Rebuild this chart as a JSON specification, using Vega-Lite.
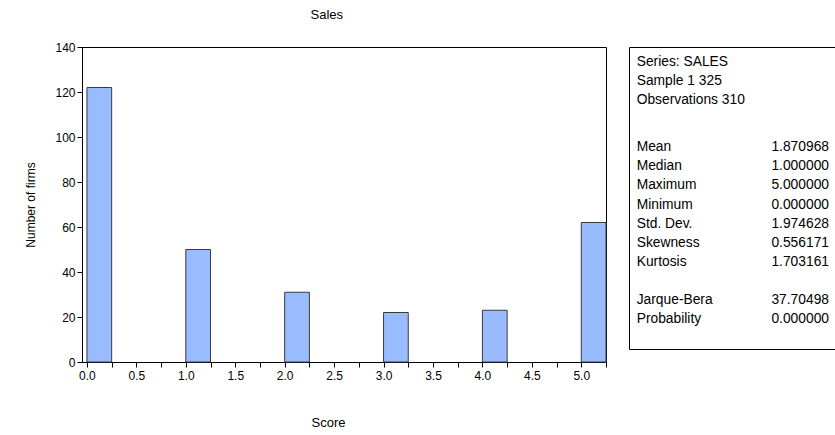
{
  "$schema": "https://vega.github.io/schema/vega-lite/v6.json",
  "background": "white",
  "padding": {"left": 24, "top": 8, "right": 0, "bottom": 0},
  "title": {"text": "Sales", "anchor": "start", "dx": 286, "fontSize": 13, "fontWeight": "normal", "font": "Liberation Sans", "color": "black", "offset": 19},
  "config": {
    "font": "Liberation Sans",
    "view": {"stroke": "black", "strokeWidth": 1},
    "axis": {"grid": false, "domainColor": "black", "tickColor": "black", "labelColor": "black", "titleColor": "black", "labelFont": "Liberation Sans", "titleFont": "Liberation Sans", "titleFontWeight": "normal", "labelFontSize": 12, "titleFontSize": 12, "tickSize": 5}
  },
  "spacing": 21,
  "hconcat": [
    {
      "width": 524,
      "height": 315,
      "data": {"values": [
        {"lo": 0, "hi": 0.25, "count": 122},
        {"lo": 1, "hi": 1.25, "count": 50},
        {"lo": 2, "hi": 2.25, "count": 31},
        {"lo": 3, "hi": 3.25, "count": 22},
        {"lo": 4, "hi": 4.25, "count": 23},
        {"lo": 5, "hi": 5.25, "count": 62}
      ]},
      "mark": {"type": "bar", "fill": "#99BBFF", "stroke": "#3a3a3a", "strokeWidth": 1, "opacity": 1},
      "encoding": {
        "x": {"field": "lo", "type": "quantitative", "scale": {"domain": [-0.05, 5.25], "nice": false, "zero": false},
          "axis": {"title": "Score", "titleFontSize": 13, "titlePadding": 35, "titleX": 246, "titleAlign": "center", "values": [0,0.25,0.5,0.75,1,1.25,1.5,1.75,2,2.25,2.5,2.75,3,3.25,3.5,3.75,4,4.25,4.5,4.75,5,5.25],
            "labelExpr": "(datum.value * 2) % 1 == 0 ? format(datum.value, '.1f') : ''", "labelPadding": 3, "labelFlush": false}},
        "x2": {"field": "hi"},
        "y": {"field": "count", "type": "quantitative", "scale": {"domain": [0, 140], "nice": false},
          "axis": {"title": "Number of firms", "titleFontSize": 12, "titlePadding": 17, "values": [0,20,40,60,80,100,120,140], "labelPadding": 2}},
        "y2": {"datum": 0}
      }
    },
    {
      "width": 220,
      "height": 302,
      "data": {"values": [
        {"label": "Series: SALES", "value": "", "line": 0},
        {"label": "Sample 1 325", "value": "", "line": 1},
        {"label": "Observations 310", "value": "", "line": 2},
        {"label": "Mean", "value": "1.870968", "line": 4.45},
        {"label": "Median", "value": "1.000000", "line": 5.45},
        {"label": "Maximum", "value": "5.000000", "line": 6.45},
        {"label": "Minimum", "value": "0.000000", "line": 7.45},
        {"label": "Std. Dev.", "value": "1.974628", "line": 8.45},
        {"label": "Skewness", "value": "0.556171", "line": 9.45},
        {"label": "Kurtosis", "value": "1.703161", "line": 10.45},
        {"label": "Jarque-Bera", "value": "37.70498", "line": 12.45},
        {"label": "Probability", "value": "0.000000", "line": 13.45}
      ]},
      "layer": [
        {
          "mark": {"type": "text", "align": "left", "baseline": "middle", "fontSize": 13.8, "color": "black"},
          "encoding": {
            "x": {"datum": 0.035, "type": "quantitative", "scale": {"domain": [0, 1]}, "axis": null},
            "y": {"field": "line", "type": "quantitative", "scale": {"domain": [-0.78, 15.0], "reverse": true, "nice": false, "zero": false}, "axis": null},
            "text": {"field": "label"}
          }
        },
        {
          "mark": {"type": "text", "align": "right", "baseline": "middle", "fontSize": 13.8, "color": "black"},
          "encoding": {
            "x": {"datum": 0.909, "type": "quantitative", "scale": {"domain": [0, 1]}, "axis": null},
            "y": {"field": "line", "type": "quantitative", "scale": {"domain": [-0.78, 15.0], "reverse": true, "nice": false, "zero": false}, "axis": null},
            "text": {"field": "value"}
          }
        }
      ]
    }
  ]
}
